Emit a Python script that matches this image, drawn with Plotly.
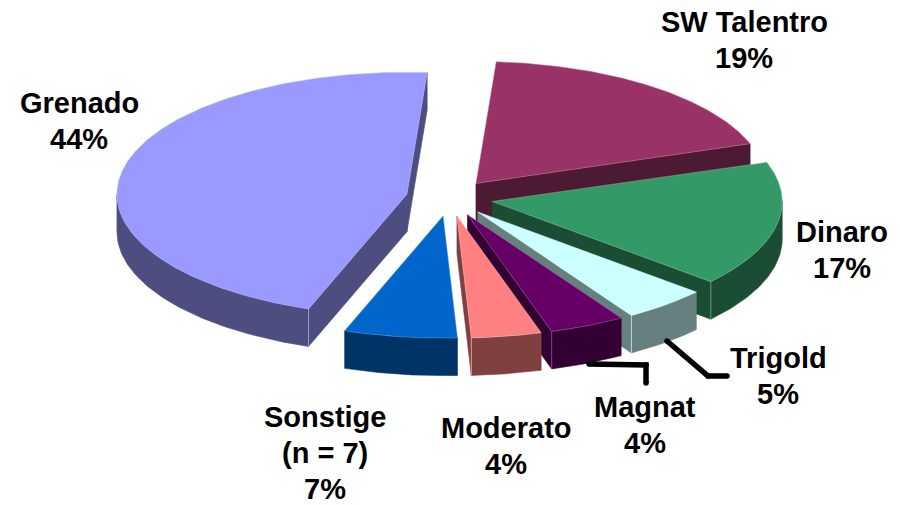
import numpy as np
import plotly.graph_objects as go

# Slices clockwise from the start angle. Sweeps are read from the drawn wedges;
# the printed percentages are the reference's own labels.
categories = ["SW Talentro", "Dinaro", "Trigold", "Magnat", "Moderato", "Sonstige", "Grenado"]
drawn_share = [18.6, 16.7, 4.7, 4.2, 3.9, 6.3, 45.6]
label_lines = [["SW Talentro", "19%"], ["Dinaro", "17%"], ["Trigold", "5%"], ["Magnat", "4%"],
               ["Moderato", "4%"], ["Sonstige", "(n = 7)", "7%"], ["Grenado", "44%"]]

# Styles
top_colors = ["#993366", "#339966", "#CCFFFF", "#660066", "#FF8080", "#0066CC", "#9999FF"]
side_colors = ["#4D1A33", "#1A4D33", "#668080", "#330033", "#804040", "#003366", "#4D4D80"]
rim_colors = ["#C27FA2", "#7FC2A0", "#E6FFFF", "#A060A0", "#FFC0C0", "#4D94DB", "#B8B8FF"]
paint_order = ["Grenado", "SW Talentro", "Dinaro", "Trigold", "Magnat", "Moderato", "Sonstige"]

# Layout of the projected pie, and of the labels
CX, CY, RX, RY, DEPTH, PULL, START = 449.5, 198.0, 290.0, 122.0, 37.5, 0.15, 4.0
label_x = [744, 842, 778, 645, 506, 325, 79]
label_first_y = [22, 232, 358, 407, 428, 417, 103]
LINE_STEP = 36
leaders = [([667, 708, 727], [341, 376, 376]), ([589, 646, 646], [364, 365, 383])]


def rim(cx, cy, deg):
    t = np.radians(deg)
    return cx + RX * np.sin(t), cy - RY * np.cos(t)


def poly(fig, xs, ys, color, line=None, width=0.0):
    fig.add_trace(go.Scatter(
        x=list(xs) + [xs[0]], y=list(ys) + [ys[0]], mode="lines", fill="toself",
        fillcolor=color, line=dict(color=line or color, width=width if line else 0.6),
        hoverinfo="skip", showlegend=False))


fig = go.Figure()
sweeps = 360.0 * np.array(drawn_share) / sum(drawn_share)
ends = START + np.cumsum(sweeps)
starts = ends - sweeps

for name in paint_order:
    i = categories.index(name)
    s, e = starts[i], ends[i]
    mid = np.radians((s + e) / 2)
    ax = CX + RX * PULL * np.sin(mid)
    ay = CY - RY * PULL * np.cos(mid)

    # radial walls that face the viewer
    for ang, visible in ((s, np.sin(np.radians(s)) < 0), (e, np.sin(np.radians(e)) > 0)):
        if visible:
            rx, ry = rim(ax, ay, ang)
            poly(fig, [ax, rx, rx, ax], [ay, ry, ry + DEPTH, ay + DEPTH], side_colors[i])

    # outer curved wall, only where it faces the viewer
    lo, hi = max(s, 90.0), min(e, 270.0)
    if hi > lo:
        arc = np.linspace(lo, hi, 80)
        px, py = rim(ax, ay, arc)
        poly(fig, np.r_[px, px[::-1]], np.r_[py, py[::-1] + DEPTH], side_colors[i])
        for ang in (s, e):
            if 90.0 < ang < 270.0 and ((ang == e and np.sin(np.radians(e)) > 0)
                                       or (ang == s and np.sin(np.radians(s)) < 0)):
                rx, ry = rim(ax, ay, ang)
                fig.add_trace(go.Scatter(x=[rx, rx], y=[ry, ry + DEPTH], mode="lines",
                                         line=dict(color=rim_colors[i], width=0.7),
                                         hoverinfo="skip", showlegend=False))

    # top face
    arc = np.linspace(s, e, 200)
    px, py = rim(ax, ay, arc)
    poly(fig, np.r_[ax, px], np.r_[ay, py], top_colors[i], line=rim_colors[i], width=0.5)

for lx, ly in leaders:
    fig.add_trace(go.Scatter(x=lx, y=ly, mode="lines+markers",
                             line=dict(color="black", width=5.5), marker=dict(color="black", size=5.5),
                             hoverinfo="skip", showlegend=False))

for lines, x, y0 in zip(label_lines, label_x, label_first_y):
    for k, part in enumerate(lines):
        fig.add_annotation(x=x, y=y0 + k * LINE_STEP, text=f"<b>{part}</b>", showarrow=False,
                           xanchor="center", yanchor="middle",
                           font=dict(family="Liberation Sans", size=29, color="black"))

fig.update_layout(
    width=900, height=505, margin=dict(l=0, r=0, t=0, b=0),
    paper_bgcolor="white", plot_bgcolor="white", showlegend=False,
    xaxis=dict(range=[0, 900], visible=False, fixedrange=True),
    yaxis=dict(range=[505, 0], visible=False, fixedrange=True),
)
fig.write_html("out.html", config={"displayModeBar": False},
               post_script="document.body.style.margin='0';")
